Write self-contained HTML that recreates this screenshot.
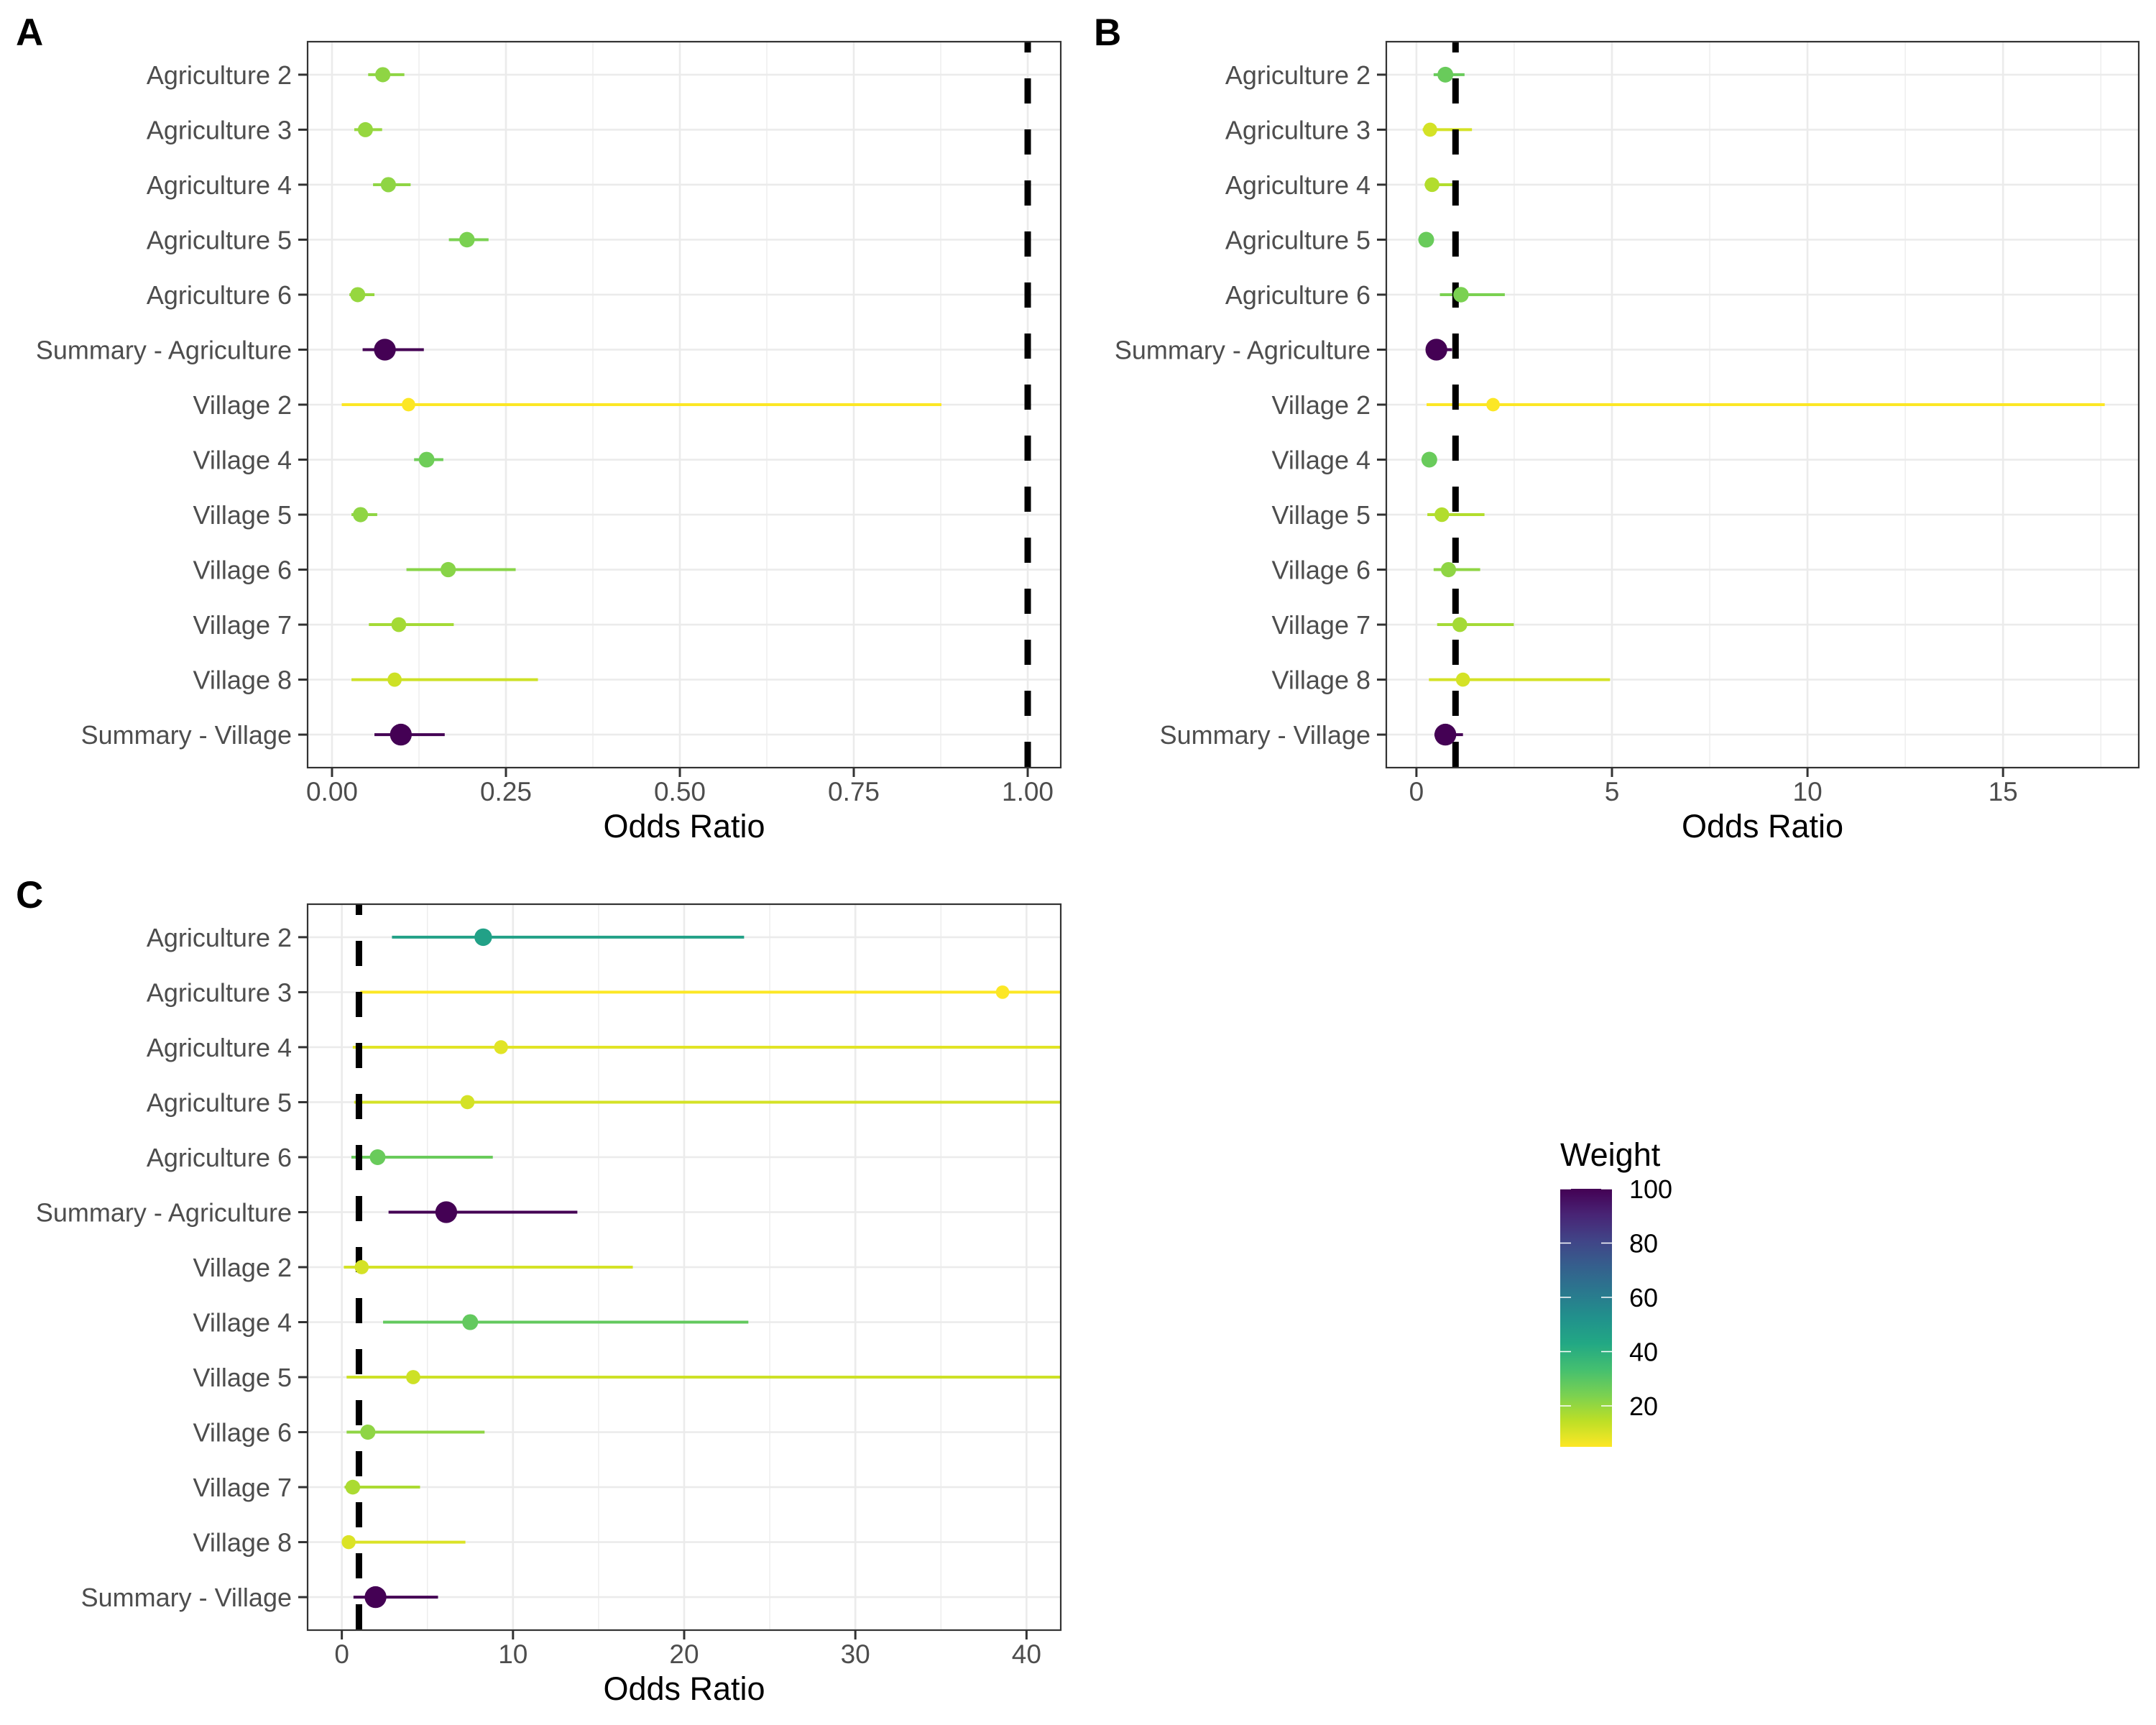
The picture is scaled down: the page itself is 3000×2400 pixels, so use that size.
<!DOCTYPE html>
<html><head><meta charset="utf-8"><style>
html,body{margin:0;padding:0;background:#fff;}
svg{display:block;font-family:"Liberation Sans",Arial,sans-serif;}
</style></head><body>
<svg id="fig" width="3000" height="2400" viewBox="0 0 3000 2400" xmlns="http://www.w3.org/2000/svg">
<rect x="0" y="0" width="3000" height="2400" fill="#fff"/>
</svg>
<script>
// ---- data ----
const categories = ["Agriculture 2","Agriculture 3","Agriculture 4","Agriculture 5","Agriculture 6","Summary - Agriculture","Village 2","Village 4","Village 5","Village 6","Village 7","Village 8","Summary - Village"];

const aEst  = [0.073,0.048,0.081,0.194,0.037,0.076,0.110,0.136,0.041,0.167,0.096,0.090,0.099];
const aLow  = [0.052,0.032,0.059,0.168,0.025,0.044,0.014,0.118,0.028,0.107,0.053,0.028,0.061];
const aHigh = [0.104,0.072,0.113,0.225,0.061,0.132,0.876,0.160,0.065,0.264,0.175,0.296,0.162];
const aWeight = [21,20,21,24,20,100,5,26,21,22,18,12,100];

const bEst  = [0.74,0.35,0.40,0.25,1.14,0.51,1.96,0.33,0.65,0.82,1.11,1.19,0.74];
const bLow  = [0.44,0.16,0.21,0.20,0.60,0.30,0.26,0.28,0.28,0.44,0.53,0.32,0.46];
const bHigh = [1.23,1.42,0.95,0.30,2.26,0.91,17.6,0.40,1.74,1.63,2.49,4.95,1.19];
const bWeight = [27,11,16,27,24,100,5,27,16,21,18,11,100];

const cEst  = [8.26,38.6,9.3,7.34,2.09,6.1,1.16,7.5,4.17,1.52,0.64,0.40,1.97];
const cLow  = [2.93,1.08,0.64,0.72,0.56,2.73,0.12,2.41,0.28,0.28,0.16,0.04,0.68];
const cHigh = [23.5,60,50,55,8.82,13.76,17.0,23.75,48,8.34,4.57,7.22,5.62];
const cWeight = [46,5,9,11,27,100,11,28,12,21,17,10,100];

const aTicks = [0,0.25,0.5,0.75,1.0];
const aTickLabels = ["0.00","0.25","0.50","0.75","1.00"];
const aMinor = [0.125,0.375,0.625,0.875];
const bTicks = [0,5,10,15];
const bTickLabels = ["0","5","10","15"];
const bMinor = [2.5,7.5,12.5,17.5];
const cTicks = [0,10,20,30,40];
const cTickLabels = ["0","10","20","30","40"];
const cMinor = [5,15,25,35];
const legendTicks = [20,40,60,80,100];
const refLine = 1;

// ---- helpers ----
const NS="http://www.w3.org/2000/svg";
const svg=document.getElementById('fig');
function mk(tag,attrs,parent){const e=document.createElementNS(NS,tag);for(const k in attrs)e.setAttribute(k,attrs[k]);(parent||svg).appendChild(e);return e;}
const vir=["#440154","#482475","#414487","#355f8d","#2a788e","#21918c","#22a884","#44bf70","#7ad151","#bddf26","#fde725"];
function hex(h){return [parseInt(h.substr(1,2),16),parseInt(h.substr(3,2),16),parseInt(h.substr(5,2),16)];}
const WMIN=4.9,WMAX=100;
function colorFor(w){let t=1-(w-WMIN)/(WMAX-WMIN);t=Math.max(0,Math.min(1,t));const p=t*10;const i=Math.min(9,Math.floor(p));const f=p-i;const a=hex(vir[i]),b=hex(vir[i+1]);return "rgb("+a.map((v,k)=>Math.round(v+(b[k]-v)*f)).join(",")+")";}
function radiusFor(w){return Math.sqrt(80+1.5*w);}

function panel(opt){
  const g=mk('g',{});
  
  
  const L=opt.left,R=opt.right,T=opt.top,B=opt.bottom;
  const xs=v=>L+(v-opt.xmin)/(opt.xmax-opt.xmin)*(R-L);
  const unit=(B-T)/13.2;
  const ys=i=>T+(0.6+i)*unit;
  const clip='clip-'+opt.name;
  const defs=mk('defs',{},g);const cp=mk('clipPath',{id:clip},defs);mk('rect',{x:L,y:T,width:R-L,height:B-T},cp);
  const plot=mk('g',{'clip-path':'url(#'+clip+')'},g);
  opt.minor.forEach(v=>{const l=mk('line',{x1:xs(v),x2:xs(v),y1:T,y2:B,stroke:'#ebebeb','stroke-width':1.3},plot);
    
    });
  opt.ticks.forEach(v=>{const l=mk('line',{x1:xs(v),x2:xs(v),y1:T,y2:B,stroke:'#ebebeb','stroke-width':2.6},plot);
    
    });
  categories.forEach((c,i)=>{const l=mk('line',{x1:L,x2:R,y1:ys(i),y2:ys(i),stroke:'#ebebeb','stroke-width':2.6},plot);
    
    });
  categories.forEach((c,i)=>{const col=colorFor(opt.w[i]);
    const l=mk('line',{x1:xs(opt.lo[i]),x2:xs(opt.hi[i]),y1:ys(i),y2:ys(i),stroke:col,'stroke-width':4},plot);
    
    });
  const rl=mk('line',{x1:xs(refLine),x2:xs(refLine),y1:T,y2:B,stroke:'#000','stroke-width':9,'stroke-dasharray':'35 36','stroke-dashoffset':20},plot);
  
  
  categories.forEach((c,i)=>{const col=colorFor(opt.w[i]);
    const p=mk('circle',{cx:xs(opt.est[i]),cy:ys(i),r:radiusFor(opt.w[i]),fill:col},plot);
    
    });
  const br=mk('rect',{x:L,y:T,width:R-L,height:B-T,fill:'none',stroke:'#333','stroke-width':2.2},g);
  
  
  categories.forEach((c,i)=>{mk('line',{x1:L-13,x2:L,y1:ys(i),y2:ys(i),stroke:'#333','stroke-width':3},g);
    const t=mk('text',{x:L-22,y:ys(i)+13,'text-anchor':'end','font-size':36,fill:'#4d4d4d'},g);t.textContent=c;
    
    });
  opt.ticks.forEach((v,k)=>{mk('line',{x1:xs(v),x2:xs(v),y1:B,y2:B+13,stroke:'#333','stroke-width':3},g);
    const t=mk('text',{x:xs(v),y:B+46,'text-anchor':'middle','font-size':37,fill:'#4d4d4d'},g);t.textContent=opt.labels[k];
    
    });
  const xt=mk('text',{x:(L+R)/2,y:B+97,'text-anchor':'middle','font-size':45,fill:'#000'},g);xt.textContent='Odds Ratio';
  
  
  const pl=mk('text',{x:opt.labX,y:T+5,'font-size':53,'font-weight':'bold',fill:'#000'},g);pl.textContent=opt.tag;
  
  
}

panel({name:'panel-a',tag:'A',labX:22,left:428,right:1476,top:58,bottom:1068,xmin:-0.0351,xmax:1.0475,ticks:aTicks,labels:aTickLabels,minor:aMinor,est:aEst,lo:aLow,hi:aHigh,w:aWeight});
panel({name:'panel-b',tag:'B',labX:1522,left:1929,right:2976,top:58,bottom:1068,xmin:-0.77,xmax:18.47,ticks:bTicks,labels:bTickLabels,minor:bMinor,est:bEst,lo:bLow,hi:bHigh,w:bWeight});
panel({name:'panel-c',tag:'C',labX:22,left:428,right:1476,top:1258,bottom:2268,xmin:-2.0,xmax:42.0,ticks:cTicks,labels:cTickLabels,minor:cMinor,est:cEst,lo:cLow,hi:cHigh,w:cWeight});

// ---- legend ----
const lg=mk('g',{});


const defs=mk('defs',{},lg);
const grad=mk('linearGradient',{id:'vgrad',x1:0,y1:1,x2:0,y2:0},defs);
vir.slice().reverse().forEach((c,i)=>mk('stop',{offset:(i/10),'stop-color':c},grad));
const LT=1654,LB=2013,LL=2171,LR=2243;
const ly=v=>LB-(v-WMIN)/(WMAX-WMIN)*(LB-LT);
const lt=mk('text',{x:2171,y:1622,'font-size':45,fill:'#000'},lg);lt.textContent='Weight';


const bar=mk('rect',{x:LL,y:LT,width:LR-LL,height:LB-LT,fill:'url(#vgrad)'},lg);


legendTicks.forEach(v=>{
  mk('line',{x1:LL,x2:LL+15,y1:ly(v),y2:ly(v),stroke:'#fff','stroke-width':1.5},lg);
  mk('line',{x1:LR-15,x2:LR,y1:ly(v),y2:ly(v),stroke:'#fff','stroke-width':1.5},lg);
  const t=mk('text',{x:2267,y:ly(v)+13,'font-size':36,fill:'#000'},lg);t.textContent=String(v);
  
  
});
</script>
</body></html>
